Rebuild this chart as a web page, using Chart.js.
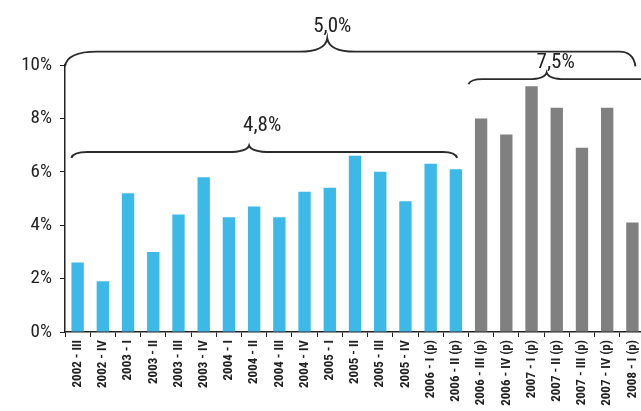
<!DOCTYPE html>
<html>
<head>
<meta charset="utf-8">
<script src="https://cdn.jsdelivr.net/npm/chart.js@4"></script>
<style>
html,body{margin:0;padding:0;background:#fff;overflow:hidden;}
#wrap{position:absolute;left:0;top:0;width:651px;height:411px;}
</style>
</head>
<body>
<div id="wrap"><canvas id="c"></canvas></div>
<script>
// ---- data ----
const categories = [
  '2002 - III','2002 - IV','2003 - I','2003 - II','2003 - III','2003 - IV',
  '2004 - I','2004 - II','2004 - III','2004 - IV','2005 - I','2005 - II',
  '2005 - III','2005 - IV','2006 - I (p)','2006 - II (p)','2006 - III (p)',
  '2006 - IV (p)','2007 - I (p)','2007 - II (p)','2007 - III (p)','2007 - IV (p)','2008 - I (p)'
];
const growth = [2.6,1.9,5.2,3.0,4.4,5.8,4.3,4.7,4.3,5.25,5.4,6.6,6.0,4.9,6.3,6.1,
                8.0,7.4,9.2,8.4,6.9,8.4,4.1];
const firstGrayIndex = 16;
const yTicks = [0,2,4,6,8,10];
// brackets: label, from category position, to category position, apex position
const bracketLabels = ['5,0%','4,8%','7,5%'];
const bracketFrom   = [-0.5, -0.25, 15.5];
const bracketTo     = [22.12, 15.05, 23.5];
const bracketApex   = [9.9, 6.8, 18.6];

const BLUE = '#3cb9e6', GRAY = '#808080';
const FONT = "'Roboto Condensed','DejaVu Sans Condensed',sans-serif";

// geometry of each bracket (values on y scale)
const bracketStyle = [
  {line:10.5, end:9.95, apex:11.0, label:11.42, rL:32, rR:16, r2:28, dx:5},
  {line:6.74, end:6.52, apex:6.98, label:7.72, rL:16, rR:14, r2:22, dx:13},
  {line:9.47, end:9.28, apex:9.72, label:10.07, rL:14, rR:14, r2:18, dx:9}
];

const bracketPlugin = {
  id:'brackets',
  afterDraw(chart){
    const ctx = chart.ctx, xs = chart.scales.x, ys = chart.scales.y;
    const xAt = v => {
      const w = (xs.right - xs.left)/categories.length;
      return xs.left + (v+0.5)*w;
    };
    ctx.save();
    ctx.strokeStyle = '#2b2b2b';
    ctx.lineWidth = 1.9;
    ctx.fillStyle = '#222';
    ctx.font = "21px " + FONT;
    ctx.textAlign = 'center';
    ctx.textBaseline = 'middle';
    bracketLabels.forEach((lab,i)=>{
      const s = bracketStyle[i];
      const x0 = xAt(bracketFrom[i]), x1 = xAt(bracketTo[i]), ax = xAt(bracketApex[i]);
      const yl = ys.getPixelForValue(s.line), ye = ys.getPixelForValue(s.end), ya = ys.getPixelForValue(s.apex);
      ctx.beginPath();
      ctx.moveTo(x0, ye);
      ctx.quadraticCurveTo(x0+2, yl, x0+s.rL, yl);
      ctx.lineTo(ax - s.r2, yl);
      ctx.quadraticCurveTo(ax-2, yl, ax, ya);
      ctx.quadraticCurveTo(ax+2, yl, ax + s.r2, yl);
      ctx.lineTo(x1 - s.rR, yl);
      ctx.quadraticCurveTo(x1-2, yl, x1, ye);
      ctx.stroke();
      ctx.fillText(lab, ax + s.dx, ys.getPixelForValue(s.label));
    });
    ctx.restore();
  }
};

new Chart(document.getElementById('c'), {
  type:'bar',
  data:{
    labels: categories,
    datasets:[{
      data: growth,
      backgroundColor: growth.map((v,i)=> i < firstGrayIndex ? BLUE : GRAY),
      barPercentage: 0.49,
      categoryPercentage: 1.0
    }]
  },
  options:{
    responsive:true,
    maintainAspectRatio:false,
    animation:false,
    layout:{padding:{top:65,left:0,right:0,bottom:0}},
    plugins:{legend:{display:false},tooltip:{enabled:false}},
    scales:{
      x:{
        offset:true,
        afterFit(s){ s.height = 79; },
        grid:{offset:true, drawOnChartArea:false, tickLength:5, color:'#222', lineWidth:1},
        border:{display:true, color:'#222', width:1.5},
        ticks:{
          autoSkip:false, maxRotation:90, minRotation:90, padding:3,
          color:'#222', font:{family:FONT, size:13, weight:'bold'}
        }
      },
      y:{
        min:0, max:10,
        afterFit(s){ s.width = 65; },
        afterBuildTicks(s){ s.ticks = yTicks.map(v=>({value:v})); },
        grid:{drawOnChartArea:false, tickLength:5, color:'#222'},
        border:{display:true, color:'#222', width:1.5},
        ticks:{
          padding:8, color:'#222',
          font:{family:FONT, size:19},
          callback:v=> v + '%'
        }
      }
    }
  },
  plugins:[bracketPlugin]
});
</script>
</body>
</html>
